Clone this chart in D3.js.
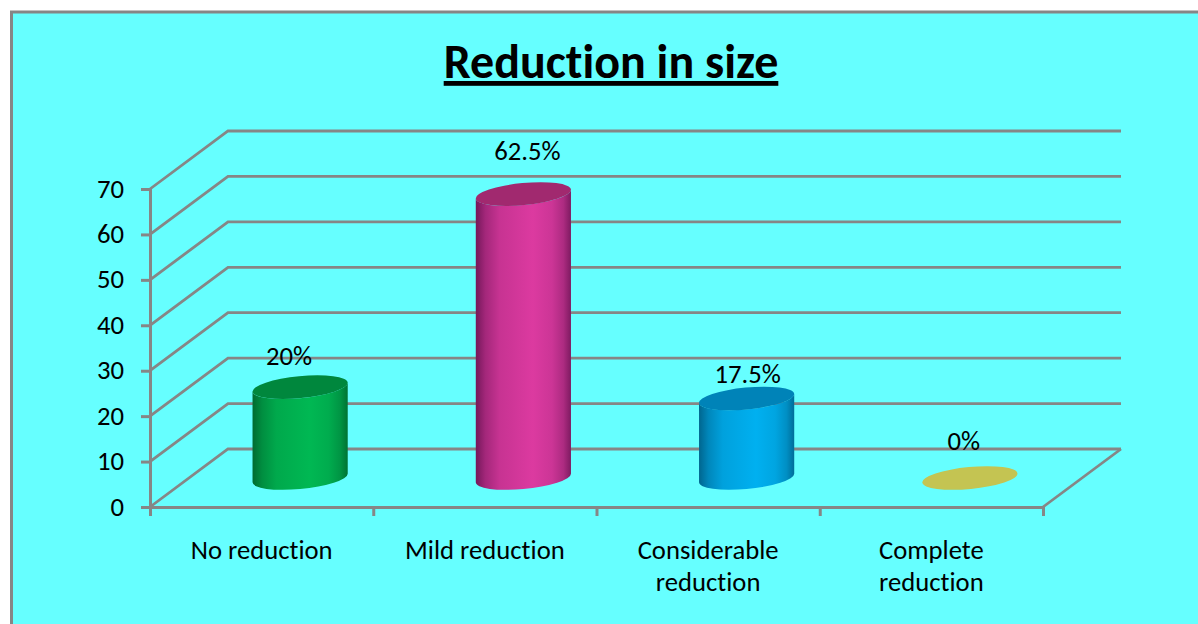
<!DOCTYPE html>
<html><head><meta charset="utf-8">
<script src="https://cdn.jsdelivr.net/npm/d3@7"></script>
<style>html,body{margin:0;padding:0;background:#fff;overflow:hidden}svg{display:block}text{font-family:Carlito,Lato,"Open Sans",sans-serif;fill:#000;font-variant-ligatures:none}</style>
</head><body><svg id="c" width="1198" height="624"></svg>
<script>
const titleText = "Reduction in size";
const categories = ["No reduction","Mild reduction","Considerable reduction","Complete reduction"];
const categoryLines = [["No reduction"],["Mild reduction"],["Considerable","reduction"],["Complete","reduction"]];
const values = [20,62.5,17.5,0];
const valueLabels = ["20%","62.5%","17.5%","0%"];
const yTicks = [0,10,20,30,40,50,60,70];
const bodyDark = ["#006b31","#74185a","#00668f","#b5b54a"];
const bodyLight = ["#00b853","#dc3aa0","#00b0f0","#c4c452"];
const topColors = ["#00873d","#a1296f","#0083b8","#c4c452"];
const labelNudgeX = [-11,4,1,-6];
const labelNudgeY = [-31,-43,-25,-37];

const GRID="#868686";
const depth={dx:78,dy:-58};
const svg=d3.select("#c");
svg.append("rect").attr("x",11.5).attr("y",12).attr("width",1300).attr("height",800)
  .attr("fill","#66ffff").attr("stroke",GRID).attr("stroke-width",3);

const y=d3.scaleLinear().domain([0,70]).range([507,189]);
const x=d3.scaleBand().domain(categories).range([150,1043]);
const xEdge=d3.scaleLinear().domain([0,categories.length]).range([150,1043]);

// walls
const g=svg.append("g");
g.selectAll("path.grid").data(yTicks).join("path").attr("class","grid")
  .attr("d",v=>`M${x.range()[0]},${y(v)}L${x.range()[0]+depth.dx},${y(v)+depth.dy}L${x.range()[1]+depth.dx},${y(v)+depth.dy}`)
  .attr("fill","none").attr("stroke",GRID).attr("stroke-width",2.8);
g.append("path").attr("d",`M${x.range()[1]},${y(0)}L${x.range()[1]+depth.dx},${y(0)+depth.dy}`)
  .attr("stroke",GRID).attr("stroke-width",2.8).attr("fill","none");

// axes
const axisStyle=s=>{s.selectAll("path.domain").attr("stroke",GRID).attr("stroke-width",3);
  s.selectAll(".tick line").attr("stroke",GRID).attr("stroke-width",3);};
const yAxis=svg.append("g").attr("transform","translate(150,0)")
  .call(d3.axisLeft(y).tickValues(yTicks).tickSize(9).tickSizeOuter(9).tickPadding(17));
yAxis.call(axisStyle);
yAxis.selectAll("text").attr("font-size",26.67).attr("font-family",null).attr("dy","0.3em");
const xAxis=svg.append("g").attr("transform","translate(0,507)")
  .call(d3.axisBottom(xEdge).tickValues(d3.range(categories.length+1)).tickSize(9).tickSizeOuter(0).tickFormat(""));
xAxis.call(axisStyle);

// cylinders
const defs=svg.append("defs");
categories.forEach((c,i)=>{
  const gr=defs.append("linearGradient").attr("id","g"+i).attr("x1",0).attr("x2",1).attr("y1",0).attr("y2",0);
  const mix=d3.interpolateRgb(bodyDark[i],bodyLight[i]);
  [[0,0],[0.1,0.45],[0.25,0.8],[0.6,1],[0.8,0.85],[0.92,0.55],[1,0.1]].forEach(s=>{
    gr.append("stop").attr("offset",s[0]).attr("stop-color",mix(s[1]));
  });
});
const rx=47.8, ry=11, rot=-5.5;
const a=rot*Math.PI/180;
const tx=Math.hypot(rx*Math.cos(a),ry*Math.sin(a));
const tOff=(rx*rx-ry*ry)*Math.sin(a)*Math.cos(a)/tx;
const cxOf=c=>x(c)+x.bandwidth()/2+depth.dx/2-0.5;
const cyOf=v=>y(v)+depth.dy/2;
const bars=svg.append("g").selectAll("g").data(categories).join("g");
bars.each(function(c,i){
  const sel=d3.select(this), cx=cxOf(c), yb=cyOf(0), yt=cyOf(values[i]);
  if(values[i]>0){
    sel.append("path").attr("fill",`url(#g${i})`).attr("d",
      `M${cx-tx},${yt-tOff}L${cx-tx},${yb-tOff}`+
      `A${rx},${ry} ${rot} 0 0 ${cx+tx},${yb+tOff}`+
      `L${cx+tx},${yt+tOff}`+
      `A${rx},${ry} ${rot} 0 1 ${cx-tx},${yt-tOff}Z`);
  }
  sel.append("ellipse").attr("rx",rx).attr("ry",ry).attr("fill",topColors[i])
    .attr("transform",`translate(${cx},${yt}) rotate(${rot})`);
  sel.append("text").attr("x",cx+labelNudgeX[i]).attr("y",yt+labelNudgeY[i]).attr("dy","0.34em")
    .attr("text-anchor","middle").attr("font-size",26.67).text(valueLabels[i]);
});

// category labels
const cl=svg.append("g").selectAll("text").data(categories).join("text")
  .attr("text-anchor","middle").attr("font-size",26.67);
cl.each(function(c,i){
  d3.select(this).selectAll("tspan").data(categoryLines[i]).join("tspan")
    .attr("x",x(c)+x.bandwidth()/2).attr("y",(d,j)=>559+j*32).text(d=>d);
});

// title
svg.append("text").attr("x",611).attr("y",78).attr("text-anchor","middle")
  .attr("font-size",48).attr("font-weight",700).attr("text-decoration","underline").text(titleText);
</script></body></html>
